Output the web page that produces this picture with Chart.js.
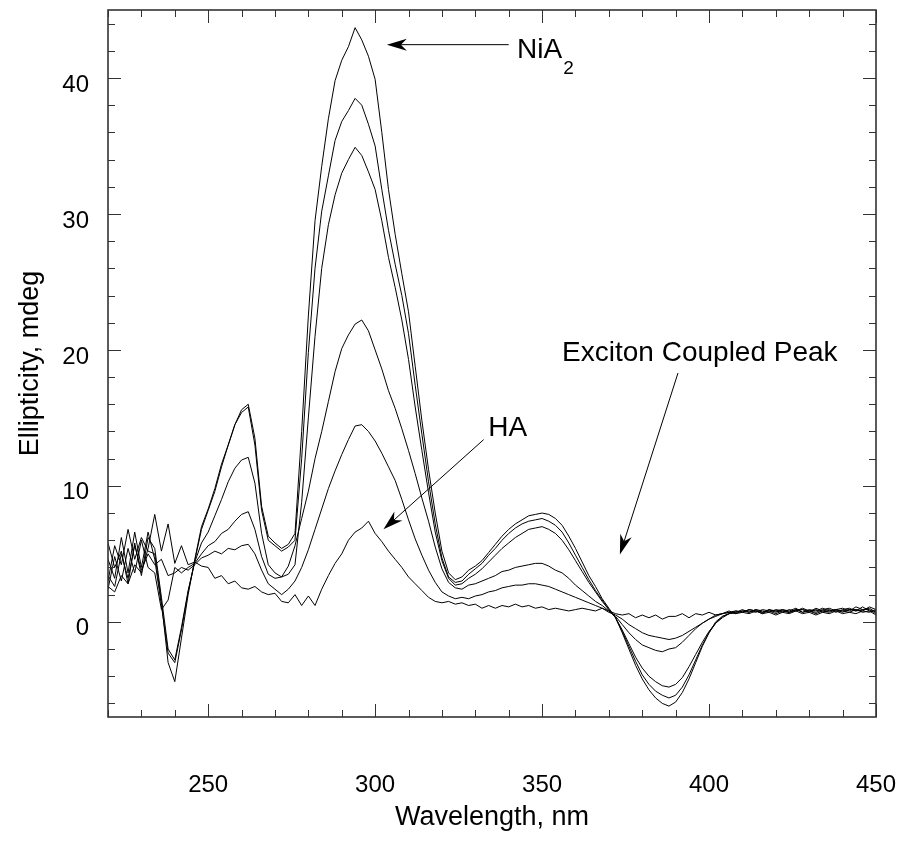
<!DOCTYPE html>
<html><head><meta charset="utf-8">
<script src="https://cdn.jsdelivr.net/npm/chart.js@4.4.1/dist/chart.umd.min.js"></script>
<style>html,body{margin:0;padding:0;background:#fff;}</style>
</head><body>
<canvas id="c" width="903" height="842"></canvas>
<script>
// ---- data ----
const wavelengths = Array.from({length: 116}, (_, i) => 220 + 2 * i); // 220..450 nm, 2 nm sampling
const xTickValues = [250, 300, 350, 400, 450];
const yTickValues = [0, 10, 20, 30, 40];

const seriesNiA2 = [
 3.0, 5.6, 4.2, 6.8, 4.6, 6.2, 5.2, 5.0, 1.5, -3.0,
 -4.4, -1.2, 2.0, 4.6, 7.0, 8.3, 9.8, 11.6, 13.0, 14.5,
 15.6, 16.0, 13.5, 8.5, 6.3, 5.8, 5.4, 5.7, 6.5, 14.0,
 22.5, 29.5, 33.5, 37.0, 39.8, 41.3, 42.3, 43.7, 42.8, 41.6,
 39.9, 36.0, 31.8, 28.5, 25.6, 22.8, 18.8, 14.8, 11.2, 8.0,
 5.2, 3.6, 3.1, 3.3, 3.8, 4.1, 4.5, 5.1, 5.7, 6.3,
 6.8, 7.2, 7.5, 7.8, 7.9, 8.0, 7.9, 7.6, 7.1, 6.3,
 5.4, 4.4, 3.4, 2.6, 1.7, 1.0, 0.3, -0.8, -2.0, -3.2,
 -4.2, -5.0, -5.6, -6.0, -6.2, -5.9, -5.2, -4.2, -3.0, -1.8,
 -0.8, 0.0, 0.4, 0.6, 0.8, 0.7, 0.9, 0.8, 0.6, 0.9,
 0.7, 0.9, 0.8, 1.0, 0.7, 0.9, 0.8, 1.0, 0.8, 0.9,
 1.0, 0.8, 1.1, 0.9, 1.0, 0.7];
const seriesB = [
 4.6, 3.2, 6.2, 3.6, 6.6, 4.0, 6.6, 4.6, 1.2, -2.3,
 -3.0, -0.6, 2.2, 4.5, 6.8, 8.2, 9.6, 11.4, 13.0, 14.5,
 15.4, 15.8, 13.0, 8.2, 6.0, 5.6, 5.2, 5.5, 6.0, 12.0,
 19.8, 26.0, 30.2, 32.8, 35.4, 36.8, 37.6, 38.5, 38.0, 36.6,
 35.0, 31.8, 28.8, 26.3, 24.0, 21.2, 17.4, 13.8, 10.3, 7.2,
 4.7, 3.3, 2.9, 3.0, 3.5, 3.9, 4.3, 4.9, 5.4, 6.0,
 6.5, 6.9, 7.2, 7.4, 7.5, 7.6, 7.4, 7.1, 6.6, 5.8,
 4.9, 4.0, 3.1, 2.3, 1.6, 0.9, 0.3, -0.7, -1.8, -2.9,
 -3.9, -4.6, -5.1, -5.4, -5.6, -5.4, -4.8, -3.9, -2.8, -1.7,
 -0.8, -0.1, 0.4, 0.6, 0.7, 0.9, 0.7, 0.9, 0.8, 0.7,
 0.9, 0.8, 0.7, 0.9, 0.9, 0.7, 1.0, 0.8, 0.9, 0.7,
 0.9, 1.0, 0.8, 1.1, 0.8, 0.5];
const seriesC = [
 5.8, 4.0, 5.2, 2.8, 5.8, 3.4, 6.2, 5.4, 1.8, -2.0,
 -2.8, -0.4, 2.3, 4.4, 5.8, 6.6, 7.8, 9.0, 10.3, 11.3,
 11.9, 12.1, 10.2, 6.5, 4.2, 3.6, 3.3, 3.5, 4.2, 8.8,
 15.0, 21.0, 26.0, 29.2, 31.4, 33.0, 34.0, 34.9, 34.3, 33.1,
 31.8, 29.5, 26.8, 24.6, 22.2, 19.3, 15.8, 12.6, 9.5, 6.6,
 4.5, 3.2, 2.7, 2.8, 3.2, 3.5, 3.9, 4.4, 4.9, 5.4,
 5.8, 6.2, 6.5, 6.8, 6.9, 7.0, 6.8, 6.5, 6.0, 5.3,
 4.5, 3.7, 2.9, 2.2, 1.5, 0.9, 0.3, -0.6, -1.6, -2.6,
 -3.4, -4.0, -4.4, -4.7, -4.8, -4.6, -4.1, -3.3, -2.4, -1.5,
 -0.7, -0.1, 0.3, 0.6, 0.7, 0.8, 0.8, 0.7, 0.9, 0.8,
 0.8, 0.7, 0.9, 0.8, 1.0, 0.8, 0.7, 0.9, 1.0, 0.8,
 0.8, 0.9, 0.9, 0.8, 1.1, 0.9];
const seriesD = [
 2.4, 4.8, 3.0, 5.4, 3.6, 6.0, 4.0, 3.6, 0.9, 1.6,
 4.0, 3.6, 4.0, 4.3, 5.0, 5.6, 5.9, 6.5, 6.8, 7.4,
 7.9, 8.1, 6.8, 4.8, 3.5, 3.2, 3.3, 4.1, 5.6, 7.6,
 9.6, 12.0, 14.0, 16.2, 18.4, 20.1, 21.1, 21.9, 22.2, 21.4,
 20.0, 18.6, 17.0, 15.7, 14.2, 12.6, 10.9, 9.1, 7.4, 5.5,
 3.9, 2.9, 2.5, 2.4, 2.7, 2.8, 3.0, 3.2, 3.4, 3.7,
 3.8, 4.0, 4.1, 4.2, 4.3, 4.3, 4.1, 3.8, 3.6, 3.2,
 2.7, 2.3, 1.9, 1.5, 1.2, 0.8, 0.4, -0.2, -0.8, -1.3,
 -1.7, -1.9, -2.1, -2.2, -2.0, -1.9, -1.5, -1.0, -0.5, -0.1,
 0.2, 0.5, 0.6, 0.7, 0.8, 0.7, 0.9, 0.8, 0.7, 0.9,
 0.8, 0.9, 0.7, 0.8, 0.9, 0.8, 0.9, 0.7, 0.8, 0.9,
 0.7, 0.9, 0.8, 0.9, 0.9, 0.6];
const seriesE = [
 3.4, 2.6, 5.0, 3.2, 5.6, 3.8, 5.0, 4.2, 4.6, 3.4,
 3.6, 4.0, 3.8, 4.2, 4.7, 4.9, 5.2, 5.0, 5.4, 5.3,
 5.6, 5.7, 5.0, 3.8, 2.8, 2.4, 2.0, 2.4, 3.0, 4.0,
 5.3, 6.8, 8.3, 9.8, 11.1, 12.3, 13.4, 14.4, 14.5, 14.0,
 13.3, 12.4, 11.4, 10.4, 9.0, 7.5, 6.1, 4.9, 3.8, 2.9,
 2.2, 1.9, 1.7, 1.8, 1.7, 1.9, 2.0, 2.2, 2.3, 2.5,
 2.6, 2.7, 2.7, 2.8, 2.8, 2.7, 2.6, 2.4, 2.2, 2.0,
 1.8, 1.6, 1.4, 1.2, 1.0, 0.7, 0.5, 0.2, -0.2, -0.5,
 -0.8, -1.0, -1.1, -1.2, -1.3, -1.2, -1.0, -0.7, -0.4, -0.1,
 0.2, 0.4, 0.6, 0.7, 0.6, 0.8, 0.7, 0.9, 0.7, 0.8,
 0.6, 0.8, 0.7, 0.9, 0.7, 0.8, 0.6, 0.8, 0.7, 0.9,
 0.8, 0.7, 0.9, 0.7, 0.8, 0.8];
const seriesHA = [
 2.6, 2.2, 3.4, 2.8, 4.2, 3.6, 5.4, 7.9, 5.2, 7.2,
 4.3, 5.6, 4.2, 4.4, 4.1, 4.0, 3.2, 3.4, 2.8, 3.0,
 2.5, 2.4, 2.6, 2.2, 2.0, 2.1, 1.5, 1.4, 2.0, 1.2,
 1.9, 1.2, 2.4, 3.4, 4.3, 5.0, 6.0, 6.6, 6.9, 7.4,
 6.5, 5.9, 5.2, 4.6, 4.0, 3.3, 2.8, 2.3, 1.8, 1.5,
 1.4, 1.5, 1.3, 1.4, 1.2, 1.3, 1.0, 1.2, 1.0, 1.2,
 1.1, 1.3, 1.1, 1.2, 1.0, 1.1, 0.9, 1.0, 0.9, 0.8,
 0.9, 1.0, 0.9, 0.8, 1.0, 0.8, 0.6, 0.5, 0.6, 0.3,
 0.5, 0.3, 0.5, 0.2, 0.4, 0.4, 0.6, 0.3, 0.6, 0.5,
 0.7, 0.5, 0.6, 0.8, 0.6, 0.7, 0.6, 0.8, 0.6, 0.7,
 0.5, 0.7, 0.6, 0.8, 0.6, 0.7, 0.5, 0.7, 0.6, 0.8,
 0.6, 0.7, 0.6, 0.8, 0.7, 0.9];

const allSeries = [seriesNiA2, seriesB, seriesC, seriesD, seriesE, seriesHA];

// ---- styling / layout ----
const FONT = "'Liberation Sans', Arial, Helvetica, sans-serif";
const AXIS_COLOR = '#333';

function toPoints(vals) { return vals.map((v, i) => ({x: wavelengths[i], y: v})); }

const frameTicks = {
  id: 'frameTicks',
  afterDatasetsDraw(chart) {
    const {ctx, chartArea: a, scales: {x, y}} = chart;
    ctx.save();
    ctx.strokeStyle = AXIS_COLOR;
    ctx.lineWidth = 1;
    ctx.beginPath();
    for (let v = 220; v <= 450; v += 10) {
      const px = Math.round(x.getPixelForValue(v)) + 0.5;
      const len = (v % 50 === 0) ? 13 : 7;
      ctx.moveTo(px, a.bottom); ctx.lineTo(px, a.bottom - len);
      ctx.moveTo(px, a.top); ctx.lineTo(px, a.top + len);
    }
    for (let v = -6; v <= 44; v += 2) {
      const py = Math.round(y.getPixelForValue(v)) + 0.5;
      const len = (v % 10 === 0) ? 13 : 7;
      ctx.moveTo(a.left, py); ctx.lineTo(a.left + len, py);
      ctx.moveTo(a.right, py); ctx.lineTo(a.right - len, py);
    }
    ctx.stroke();
    ctx.lineWidth = 1.6;
    ctx.strokeRect(a.left, a.top, a.right - a.left, a.bottom - a.top);
    ctx.restore();
  }
};

function drawArrow(ctx, x1, y1, x2, y2) {
  const ang = Math.atan2(y2 - y1, x2 - x1);
  const c = Math.cos(ang), s = Math.sin(ang);
  const L = 20, W = 6, N = 14;
  ctx.beginPath();
  ctx.moveTo(x1, y1);
  ctx.lineTo(x2 - c * N, y2 - s * N);
  ctx.stroke();
  ctx.beginPath();
  ctx.moveTo(x2, y2);
  ctx.lineTo(x2 - L * c + W * s, y2 - L * s - W * c);
  ctx.lineTo(x2 - N * c, y2 - N * s);
  ctx.lineTo(x2 - L * c - W * s, y2 - L * s + W * c);
  ctx.closePath();
  ctx.fill();
}

const annotations = {
  id: 'annotations',
  afterDraw(chart) {
    const {ctx, scales: {x, y}} = chart;
    const X = v => x.getPixelForValue(v), Y = v => y.getPixelForValue(v);
    ctx.save();
    ctx.fillStyle = '#000';
    ctx.strokeStyle = '#000';
    ctx.lineWidth = 1;
    // NiA2
    drawArrow(ctx, X(340), Y(42.45), X(303.5), Y(42.45));
    ctx.font = '28px ' + FONT;
    ctx.textBaseline = 'alphabetic';
    ctx.textAlign = 'left';
    ctx.fillText('NiA', X(342.5), Y(41.5));
    const w = ctx.measureText('NiA').width;
    ctx.font = '19px ' + FONT;
    ctx.fillText('2', X(342.5) + w + 1, Y(41.5) + 16);
    // HA
    ctx.font = '28px ' + FONT;
    ctx.fillText('HA', X(333.9), Y(13.7));
    drawArrow(ctx, X(332.5), Y(13.4), X(302.5), Y(6.8));
    // Exciton coupled peak
    ctx.font = '28px ' + FONT;
    ctx.textAlign = 'right';
    ctx.fillText('Exciton Coupled Peak', X(438.5), Y(19.2));
    drawArrow(ctx, X(390.7), Y(18.3), X(373.3), Y(4.95));
    ctx.restore();
  }
};

new Chart(document.getElementById('c'), {
  type: 'line',
  data: {
    datasets: allSeries.map(s => ({
      data: toPoints(s),
      borderColor: '#000',
      borderWidth: 1,
      pointRadius: 0,
      tension: 0,
      fill: false
    }))
  },
  options: {
    responsive: false,
    animation: false,
    devicePixelRatio: 1,
    layout: {padding: {left: 0, right: 27, top: 10, bottom: 0}},
    plugins: {legend: {display: false}, tooltip: {enabled: false}},
    scales: {
      x: {
        type: 'linear', min: 220, max: 450,
        afterBuildTicks: s => { s.ticks = xTickValues.map(v => ({value: v})); },
        afterFit: s => { s.height = 125; s.paddingLeft = 0; s.paddingRight = 0; },
        grid: {display: false, drawTicks: false},
        border: {display: false},
        ticks: {font: {family: FONT, size: 24}, color: '#000', padding: 54, maxRotation: 0, autoSkip: false},
        title: {display: true, text: 'Wavelength, nm', color: '#000', font: {family: FONT, size: 27}, padding: {top: 0, bottom: 8}}
      },
      y: {
        type: 'linear', min: -7, max: 45,
        afterBuildTicks: s => { s.ticks = yTickValues.map(v => ({value: v})); },
        afterFit: s => { s.width = 108; s.paddingTop = 0; s.paddingBottom = 0; },
        grid: {display: false, drawTicks: false},
        border: {display: false},
        ticks: {font: {family: FONT, size: 24, lineHeight: '14px'}, color: '#000', padding: 19,
                callback: v => ['', String(v)]},
        title: {display: true, text: 'Ellipticity, mdeg', color: '#000', font: {family: FONT, size: 27}, padding: {top: 14, bottom: 0}}
      }
    }
  },
  plugins: [frameTicks, annotations]
});
</script>
</body></html>
